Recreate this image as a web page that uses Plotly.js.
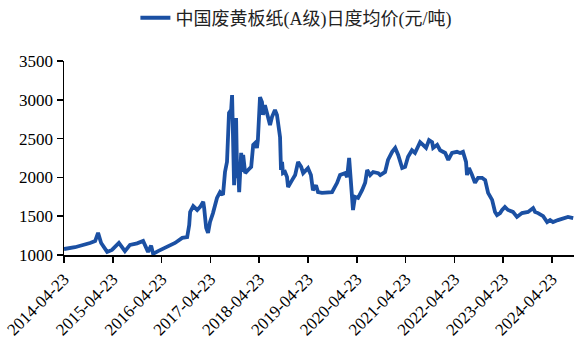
<!DOCTYPE html>
<html>
<head>
<meta charset="utf-8">
<script src="https://cdn.plot.ly/plotly-3.0.1.min.js"></script>
<style>html,body{margin:0;padding:0;background:#fff;}#chart{width:574px;height:347px;}</style>
</head>
<body>
<div id="chart"></div>
<script>
const seriesName = '中国废黄板纸(A级)日度均价(元/吨)';
const dates = [
'2014-04-23','2014-07-14','2014-11-04','2014-12-12','2015-01-03','2015-01-26','2015-03-12','2015-04-17',
'2015-06-08','2015-07-23','2015-08-30','2015-10-22','2015-12-06','2016-01-12','2016-02-04','2016-02-19',
'2016-03-27','2016-05-18','2016-08-01','2016-09-24','2016-10-31','2016-11-15','2016-11-22','2016-12-15',
'2017-01-14','2017-02-05','2017-02-28','2017-03-07','2017-03-22','2017-04-05','2017-04-20','2017-05-12',
'2017-06-11','2017-07-04','2017-07-26','2017-08-10','2017-08-25','2017-09-09','2017-09-25','2017-10-02',
'2017-10-10','2017-10-17','2017-11-01','2017-11-09','2017-11-16','2017-11-24','2017-12-09','2017-12-16',
'2017-12-24','2018-01-08','2018-01-30','2018-02-22','2018-03-09','2018-03-24','2018-04-06','2018-04-13',
'2018-04-29','2018-05-14','2018-05-21','2018-06-05','2018-06-20','2018-07-13','2018-07-28','2018-08-19',
'2018-09-03','2018-09-18','2018-09-26','2018-10-03','2018-10-11','2018-10-18','2018-11-02','2018-11-17',
'2018-11-25','2018-12-25','2019-01-17','2019-02-08','2019-03-03','2019-03-18','2019-04-08','2019-04-23',
'2019-05-15','2019-05-30','2019-06-22','2019-07-07','2019-08-06','2019-09-12','2019-10-20','2019-11-27',
'2019-12-19','2020-01-26','2020-02-10','2020-02-25','2020-03-11','2020-03-25','2020-04-09','2020-05-02',
'2020-06-01','2020-06-24','2020-07-09','2020-07-31','2020-08-23','2020-09-30','2020-10-15','2020-11-20',
'2020-12-12','2021-01-12','2021-02-04','2021-02-26','2021-03-28','2021-04-19','2021-05-11','2021-06-09',
'2021-07-02','2021-08-09','2021-08-31','2021-09-23','2021-10-15','2021-11-07','2021-11-15','2021-12-15',
'2022-01-06','2022-02-13','2022-03-08','2022-04-05','2022-05-12','2022-06-04','2022-06-26','2022-07-19',
'2022-07-26','2022-08-10','2022-09-02','2022-09-24','2022-10-17','2022-11-16','2022-12-09','2022-12-31',
'2023-01-30','2023-02-21','2023-03-08','2023-03-31','2023-04-15','2023-05-06','2023-05-29','2023-07-05',
'2023-08-04','2023-09-11','2023-10-26','2023-11-10','2023-12-03','2023-12-18','2024-01-09','2024-02-16',
'2024-03-17','2024-04-08','2024-04-30','2024-06-06','2024-07-14','2024-08-20','2024-09-28'
];
const prices = [
1077,1100,1155,1180,1285,1155,1040,1065,
1155,1050,1130,1150,1180,1040,1120,1015,
1050,1090,1155,1220,1230,1385,1555,1630,
1580,1620,1685,1605,1350,1285,1425,1540,
1735,1810,1775,2070,2200,2830,2870,3060,
2545,1900,2765,1990,2120,1810,2315,2070,
2290,2055,2095,2135,2420,2445,2380,2480,
3035,2970,2805,2930,2830,2675,2780,2870,
2805,2585,2520,2095,2200,2055,2070,2005,
1875,1965,2030,2200,2135,2055,2095,2120,
2030,1835,1900,1810,1800,1800,1810,1930,
2030,2055,2005,2250,1930,1580,1750,1735,
1835,1930,2095,2030,2070,2055,2030,2070,
2225,2330,2380,2290,2120,2135,2265,2350,
2315,2455,2420,2380,2480,2455,2380,2420,
2350,2315,2225,2315,2330,2315,2330,2200,
2030,2120,2030,1930,1995,1995,1965,1800,
1710,1555,1515,1540,1580,1620,1580,1555,
1490,1540,1555,1580,1605,1555,1540,1500,
1425,1450,1425,1450,1475,1490,1475
];
const tickDates = ['2014-04-23','2015-04-23','2016-04-23','2017-04-23','2018-04-23','2019-04-23','2020-04-23','2021-04-23','2022-04-23','2023-04-23','2024-04-23'];
const yTicks = [1000,1500,2000,2500,3000,3500];

const serif = '"Liberation Serif", "Times New Roman", serif';
Plotly.newPlot('chart', [{
  type: 'scatter', mode: 'lines', name: seriesName,
  x: dates, y: prices,
  line: {color: '#1b50a3', width: 3.8},
  cliponaxis: true
}], {
  width: 574, height: 347,
  margin: {l: 64, r: 0, t: 61, b: 92},
  paper_bgcolor: '#fff', plot_bgcolor: '#fff',
  font: {family: serif, size: 17, color: '#000'},
  showlegend: true,
  legend: {orientation: 'h', x: 0.14, xanchor: 'left', xref: 'paper',
    y: 0.948, yref: 'container', yanchor: 'middle',
    font: {family: '"Liberation Serif", "Noto Sans CJK SC", serif', size: 18, color: '#222'}},
  xaxis: {
    type: 'date', range: ['2014-04-23', '2024-10-04'],
    tickmode: 'array', tickvals: tickDates, ticktext: tickDates,
    tickangle: -45, ticks: 'outside', ticklen: 6, tickwidth: 1.5, tickcolor: '#000',
    showline: true, linecolor: '#000', linewidth: 1.5, showgrid: false, zeroline: false,
    tickfont: {family: serif, size: 17, color: '#000'}
  },
  yaxis: {
    range: [1000, 3500], tickmode: 'array', tickvals: yTicks,
    ticks: 'outside', ticklen: 6, tickwidth: 1.5, tickcolor: '#000',
    showline: true, linecolor: '#000', linewidth: 1.5, showgrid: false, zeroline: false,
    tickfont: {family: serif, size: 17, color: '#000'}
  }
}, {displayModeBar: false, staticPlot: true});
</script>
</body>
</html>
